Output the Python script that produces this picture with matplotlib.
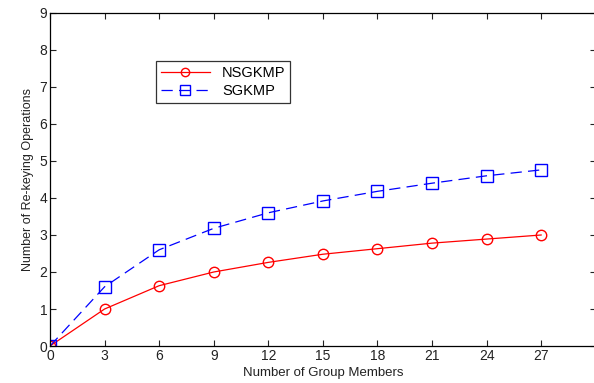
import matplotlib.pyplot as plt
from matplotlib import rcParams

rcParams['font.family'] = 'sans-serif'
rcParams['font.sans-serif'] = ['Liberation Sans']

members = [0, 3, 6, 9, 12, 15, 18, 21, 24, 27]
nsgkmp = [0, 1.0, 1.63, 2.0, 2.26, 2.48, 2.63, 2.78, 2.89, 3.0]
sgkmp = [0, 1.6, 2.6, 3.18, 3.6, 3.92, 4.18, 4.4, 4.6, 4.76]

fig = plt.figure(figsize=(5.94, 3.83), dpi=100)
ax = fig.add_axes([0.0842, 0.0966, 0.9187, 0.8695])

ax.plot(members, nsgkmp, color='#ff0000', marker='o', markersize=7.5,
        markerfacecolor='none', markeredgewidth=1.0, linewidth=0.9,
        label='NSGKMP')
ax.plot(members, sgkmp, color='#0000ff', marker='s', markersize=8.5,
        markerfacecolor='none', markeredgewidth=1.0, linewidth=0.9,
        dashes=(9, 5), label='SGKMP')

ax.set_xlim(0, 30)
ax.set_ylim(0, 9)
ax.set_xticks(members)
ax.set_yticks(range(10))
ax.tick_params(direction='in', length=4, width=0.8, top=True, right=True,
               labelsize=10, colors='#222222', pad=2)
for s in ax.spines.values():
    s.set_linewidth(0.9)

ax.set_xlabel('Number of Group Members', fontsize=9.5, labelpad=3, color='#222222')
ax.set_ylabel('Number of Re-keying Operations', fontsize=9, labelpad=4, color='#222222')

leg = ax.legend(loc='upper left', bbox_to_anchor=(0.18, 0.877), fontsize=10.5,
                fancybox=False, edgecolor='#333333', framealpha=1,
                handlelength=3.4, borderpad=0.35, labelspacing=0.25,
                markerscale=0.8)
leg.get_frame().set_linewidth(0.9)

plt.savefig('out.png', dpi=100)
